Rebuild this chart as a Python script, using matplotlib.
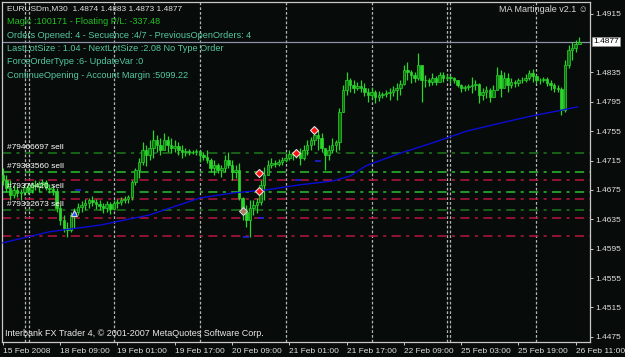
import numpy as np
import matplotlib
matplotlib.use("Agg")
import matplotlib.pyplot as plt
from matplotlib.transforms import blended_transform_factory

plt.rcParams['font.family'] = ['Liberation Sans', 'DejaVu Sans']

# EURUSDm, hourly bars (two M30 slots per bar)
high = [1.4705, 1.4695, 1.4689, 1.4682, 1.4680, 1.4676, 1.4683, 1.4684, 1.4686, 1.4689,
        1.4687, 1.4690, 1.4689, 1.4683, 1.4682, 1.4678, 1.4655, 1.4641, 1.4631, 1.4645,
        1.4650, 1.4657, 1.4660, 1.4663, 1.4664, 1.4667, 1.4663, 1.4661, 1.4657, 1.4660,
        1.4659, 1.4661, 1.4663, 1.4665, 1.4667, 1.4668, 1.4689, 1.4705, 1.4718, 1.4740,
        1.4736, 1.4743, 1.4757, 1.4750, 1.4746, 1.4752, 1.4748, 1.4746, 1.4743, 1.4740,
        1.4736, 1.4732, 1.4731, 1.4729, 1.4731, 1.4729, 1.4727, 1.4729, 1.4718, 1.4716,
        1.4712, 1.4709, 1.4723, 1.4727, 1.4716, 1.4709, 1.4712, 1.4665, 1.4655, 1.4661,
        1.4661, 1.4664, 1.4689, 1.4706, 1.4716, 1.4718, 1.4716, 1.4717, 1.4720, 1.4725,
        1.4729, 1.4727, 1.4729, 1.4732, 1.4736, 1.4743, 1.4747, 1.4759, 1.4757, 1.4752,
        1.4729, 1.4736, 1.4746, 1.4743, 1.4786, 1.4818, 1.4836, 1.4827, 1.4825, 1.4822,
        1.4825, 1.4821, 1.4814, 1.4815, 1.4811, 1.4810, 1.4808, 1.4811, 1.4814, 1.4816,
        1.4821, 1.4825, 1.4845, 1.4849, 1.4838, 1.4836, 1.4861, 1.4841, 1.4831, 1.4827,
        1.4834, 1.4830, 1.4836, 1.4836, 1.4833, 1.4831, 1.4829, 1.4825, 1.4819, 1.4818,
        1.4819, 1.4829, 1.4825, 1.4821, 1.4814, 1.4816, 1.4814, 1.4818, 1.4842, 1.4838,
        1.4836, 1.4834, 1.4827, 1.4825, 1.4827, 1.4829, 1.4833, 1.4838, 1.4840, 1.4831,
        1.4827, 1.4829, 1.4829, 1.4825, 1.4821, 1.4818, 1.4815, 1.4852, 1.4872, 1.4876,
        1.4879, 1.4883]
low = [1.4682, 1.4672, 1.4661, 1.4664, 1.4665, 1.4661, 1.4668, 1.4669, 1.4671, 1.4675,
       1.4672, 1.4678, 1.4675, 1.4671, 1.4668, 1.4645, 1.4627, 1.4618, 1.4611, 1.4618,
       1.4623, 1.4641, 1.4645, 1.4648, 1.4650, 1.4653, 1.4649, 1.4648, 1.4644, 1.4645,
       1.4642, 1.4648, 1.4650, 1.4655, 1.4657, 1.4657, 1.4661, 1.4682, 1.4691, 1.4709,
       1.4708, 1.4716, 1.4718, 1.4727, 1.4723, 1.4729, 1.4727, 1.4725, 1.4727, 1.4723,
       1.4718, 1.4721, 1.4723, 1.4724, 1.4723, 1.4713, 1.4716, 1.4712, 1.4699, 1.4695,
       1.4698, 1.4693, 1.4699, 1.4705, 1.4689, 1.4691, 1.4661, 1.4634, 1.4625, 1.4611,
       1.4641, 1.4644, 1.4655, 1.4661, 1.4695, 1.4705, 1.4706, 1.4708, 1.4709, 1.4713,
       1.4716, 1.4716, 1.4718, 1.4709, 1.4716, 1.4723, 1.4729, 1.4736, 1.4729, 1.4727,
       1.4702, 1.4716, 1.4725, 1.4727, 1.4729, 1.4781, 1.4804, 1.4808, 1.4807, 1.4811,
       1.4808, 1.4803, 1.4795, 1.4799, 1.4793, 1.4796, 1.4800, 1.4801, 1.4797, 1.4803,
       1.4797, 1.4804, 1.4818, 1.4825, 1.4821, 1.4822, 1.4825, 1.4795, 1.4815, 1.4816,
       1.4818, 1.4818, 1.4825, 1.4822, 1.4825, 1.4821, 1.4821, 1.4815, 1.4808, 1.4810,
       1.4811, 1.4807, 1.4811, 1.4793, 1.4797, 1.4800, 1.4795, 1.4801, 1.4811, 1.4801,
       1.4818, 1.4808, 1.4814, 1.4815, 1.4816, 1.4821, 1.4822, 1.4825, 1.4822, 1.4821,
       1.4819, 1.4822, 1.4816, 1.4811, 1.4808, 1.4808, 1.4777, 1.4781, 1.4841, 1.4852,
       1.4863, 1.4873]
close = [1.4689, 1.4678, 1.4668, 1.4675, 1.4671, 1.4672, 1.4679, 1.4675, 1.4682, 1.4680,
         1.4683, 1.4686, 1.4678, 1.4676, 1.4674, 1.4650, 1.4634, 1.4623, 1.4621, 1.4641,
         1.4645, 1.4652, 1.4655, 1.4657, 1.4661, 1.4659, 1.4656, 1.4653, 1.4650, 1.4656,
         1.4649, 1.4657, 1.4659, 1.4661, 1.4663, 1.4665, 1.4686, 1.4702, 1.4713, 1.4729,
         1.4723, 1.4732, 1.4743, 1.4736, 1.4729, 1.4743, 1.4736, 1.4732, 1.4735, 1.4729,
         1.4727, 1.4728, 1.4727, 1.4727, 1.4728, 1.4723, 1.4720, 1.4716, 1.4705, 1.4709,
         1.4702, 1.4705, 1.4716, 1.4709, 1.4699, 1.4702, 1.4664, 1.4645, 1.4634, 1.4650,
         1.4655, 1.4659, 1.4682, 1.4695, 1.4709, 1.4712, 1.4710, 1.4713, 1.4716, 1.4718,
         1.4724, 1.4723, 1.4725, 1.4718, 1.4729, 1.4736, 1.4743, 1.4750, 1.4746, 1.4732,
         1.4723, 1.4729, 1.4736, 1.4740, 1.4781, 1.4811, 1.4825, 1.4818, 1.4814, 1.4816,
         1.4814, 1.4808, 1.4804, 1.4808, 1.4801, 1.4804, 1.4806, 1.4807, 1.4808, 1.4811,
         1.4814, 1.4819, 1.4838, 1.4836, 1.4831, 1.4827, 1.4845, 1.4825, 1.4825, 1.4822,
         1.4827, 1.4822, 1.4831, 1.4827, 1.4829, 1.4827, 1.4825, 1.4818, 1.4814, 1.4815,
         1.4816, 1.4818, 1.4819, 1.4804, 1.4808, 1.4811, 1.4801, 1.4811, 1.4831, 1.4814,
         1.4827, 1.4818, 1.4822, 1.4821, 1.4825, 1.4825, 1.4827, 1.4834, 1.4830, 1.4825,
         1.4825, 1.4826, 1.4821, 1.4818, 1.4814, 1.4812, 1.4784, 1.4845, 1.4865, 1.4868,
         1.4874, 1.4877]
first_open = 1.4695

# moving average, M30 slot -> value
ma_slot = [0, 26, 54, 82, 110, 129, 147, 166, 184, 194, 203, 222, 240, 259, 278, 296, 311, 321]
ma_val = [1.4603, 1.4618, 1.4627, 1.4641, 1.4664, 1.4671, 1.4675, 1.4682, 1.4687, 1.4694,
          1.4708, 1.4725, 1.4739, 1.4755, 1.4766, 1.4776, 1.4783, 1.4788]

# open sell orders and their stop lines
order_ids = ["#79466697 sell", "#79383560 sell", "#79376420 sell", "#79312673 sell"]
order_price = [1.4725, 1.4699, 1.4672, 1.4647]
stop_price = [1.4688, 1.4663, 1.4637, 1.4612]

# trade arrows
sell_slot = [143, 143, 164, 174]
sell_price = [1.4698, 1.4674, 1.4725, 1.4757]
buy_slot = [40]
buy_price = [1.4644]
close_slot = [134]
close_price = [1.4646]
tick_slot = [42, 136, 144, 165, 176]
tick_price = [1.4675, 1.4611, 1.4637, 1.4688, 1.4714]

# day separators (M30 slot index)
day_start = [12.5, 14.5, 62, 110, 158, 206, 248, 250, 298]

time_slot = [0, 32, 64, 96, 128, 160, 192, 224, 256, 288, 320]
time_lbl = ["15 Feb 2008", "18 Feb 09:00", "19 Feb 01:00", "19 Feb 17:00", "20 Feb 09:00",
            "21 Feb 01:00", "21 Feb 17:00", "22 Feb 09:00", "25 Feb 03:00", "25 Feb 19:00",
            "26 Feb 11:00"]
price_ticks = [1.4475, 1.4515, 1.4555, 1.4595, 1.4635, 1.4675, 1.4715, 1.4755, 1.4795,
               1.4835, 1.4915]
last_price = 1.4877

bg = '#070b09'
fg = '#c8c8c8'

fig = plt.figure(figsize=(6.25, 3.57), dpi=100, facecolor=bg)
ax = fig.add_axes([2 / 625, 15 / 357, 588 / 625, 340 / 357], facecolor=bg)

# candles
x = np.arange(len(close)) * 2
c = np.array(close)
o = np.array([first_open] + close[:-1])
up = c >= o
ax.vlines(x, low, high, color='#2bd62b', lw=0.9, zorder=3)
ax.bar(x[up], (c - o)[up], bottom=o[up], width=1.4, color='#0f6e0f',
       edgecolor='#2bd62b', linewidth=0.5, zorder=4)
ax.bar(x[~up], (c - o)[~up], bottom=o[~up], width=1.4, color='#2bd62b',
       edgecolor='#2bd62b', linewidth=0.5, zorder=4)

ax.plot(ma_slot, ma_val, color='#0c0cd8', lw=1.0, zorder=5)

for d in day_start:
    ax.axvline(d, color='#b4b4b4', lw=0.9, ls=(0, (2.2, 1.6)), zorder=1)

ax.axhline(last_price, color='#8c92a8', lw=0.9, zorder=2)

order_col = ['#1c781c', '#2fbf2f', '#2fbf2f', '#1c781c']
for p, col in zip(order_price, order_col):
    ax.axhline(p, color=col, lw=1.1, ls=(0, (6, 3.5, 2, 3.5)), zorder=2)
for p in stop_price:
    ax.axhline(p, color='#b8163f', lw=1.1, ls=(0, (6, 3.5, 2, 3.5)), zorder=2)

trans = blended_transform_factory(ax.transAxes, ax.transData)
for lbl, p in zip(order_ids, order_price):
    ax.annotate(lbl, (0.008, p), xycoords=trans, xytext=(0, 1.5), textcoords='offset points',
                color='white', fontsize=6, va='bottom', ha='left', zorder=6)

ax.plot(tick_slot, tick_price, ls='none', marker='_', ms=5, mew=1.2, color='#2020e0', zorder=6)
ax.plot(sell_slot, sell_price, ls='none', marker='D', ms=4.5, mfc='#ff1010', mec='#e0e0e0',
        mew=0.8, zorder=7)
ax.plot(buy_slot, buy_price, ls='none', marker='^', ms=4.5, mfc='#3050ff', mec='#e0e0e0',
        mew=0.7, zorder=7)
ax.plot(close_slot, close_price, ls='none', marker='D', ms=4, mfc='#a08060', mec='#e0e0e0',
        mew=0.7, zorder=7)

ax.set_xlim(-0.5, 328)
ax.set_ylim(1.4468, 1.49308)

ax.yaxis.tick_right()
ax.set_yticks(price_ticks)
ax.set_yticklabels(["%.4f" % p for p in price_ticks])
ax.set_xticks(time_slot)
ax.set_xticklabels(time_lbl, ha='left')
ax.tick_params(colors=fg, labelcolor='#e0e0e0', labelsize=6, length=2.5, width=0.7, pad=1.5)
for s in ax.spines.values():
    s.set_color(fg)
    s.set_linewidth(0.9)

ax.text(1.006, last_price, "%.4f" % last_price, transform=trans, fontsize=6, color='black',
        va='center', ha='left',
        bbox=dict(facecolor='white', edgecolor='#909090', pad=0.8, lw=0.5))

# info panel of the expert advisor
info = [("EURUSDm,M30  1.4874 1.4883 1.4873 1.4877", '#e0e0e0', 6),
        ("Magic :100171 - Floating P/L: -337.48", '#22c022', 6.6),
        ("Orders Opened: 4 - Secuence :4/7 - PreviousOpenOrders: 4", '#55c8a0', 6.6),
        ("LastLotSize : 1.04 - NextLotSize :2.08 No Type Order", '#55c8a0', 6.6),
        ("ForceOrderType :6- UpdateVar :0", '#55c8a0', 6.6),
        ("ContinueOpening - Account Margin :5099.22", '#55c8a0', 6.6)]
for k, (t, col, fs) in enumerate(info):
    fig.text(7 / 625, 1 - (8.5 + 13.3 * k) / 357, t, color=col, fontsize=fs, va='center')

fig.text(588 / 625, 1 - 9 / 357, "MA Martingale v2.1 \u263a", color='#d8d8d8', fontsize=6.5,
         ha='right', va='center')
fig.text(5 / 625, 1 - 334 / 357,
         "Interbank FX Trader 4, \u00a9 2001-2007 MetaQuotes Software Corp.",
         color='#e8e8e8', fontsize=6.5, va='center')

fig.savefig("out.png", dpi=100, facecolor=bg)
